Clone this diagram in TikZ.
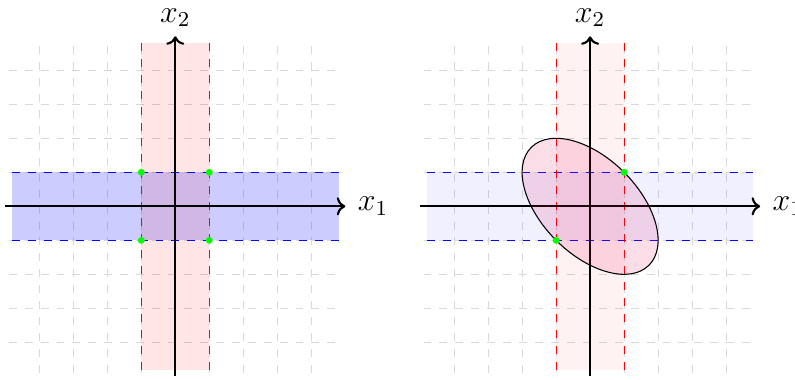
\documentclass[tikz,border=0pt]{standalone}
\usetikzlibrary{arrows.meta}
\definecolor{ellfill}{RGB}{230,30,100}
\begin{document}
\begin{tikzpicture}[x=0.45cm,y=0.45cm,
  gridline/.style={gray!30, dashed, step=0.45cm},
  axisline/.style={thick,-{To[length=3.2pt,width=6.8pt]}},
  axislabel/.style={font=\large},
  dot/.style={circle, fill=green, inner sep=0pt, minimum size=2.6pt},
  bandedge/.style={dashed}]
\clip (-5.156,-5.079) rectangle (18.226,6.068);
\useasboundingbox (-5.156,-5.079) rectangle (18.226,6.068);
% ---------- left plot ----------
\begin{scope}
  \draw[gridline] (-4.9,-4.9) grid (4.9,4.9);
  \fill[blue, fill opacity=0.2] (-4.8,-1) rectangle (4.8,1);
  \fill[red, fill opacity=0.1] (-1,-4.8) rectangle (1,4.8);
  \coordinate (LbA) at (-4.8,1);  \coordinate (LbB) at (4.8,1);
  \coordinate (LbC) at (-4.8,-1); \coordinate (LbD) at (4.8,-1);
  \coordinate (LrA) at (-1,-4.8); \coordinate (LrB) at (-1,4.8);
  \coordinate (LrC) at (1,-4.8);  \coordinate (LrD) at (1,4.8);
  \draw[bandedge, blue] (LbA) -- (LbB) (LbC) -- (LbD);
  \draw[bandedge, red] (LrA) -- (LrB) (LrC) -- (LrD);
  \coordinate (Lx0) at (-5,0); \coordinate (Lx1) at (5,0);
  \coordinate (Ly0) at (0,-5); \coordinate (Ly1) at (0,5);
  \draw[axisline] (Lx0) -- (Lx1);
  \draw[axisline] (Ly0) -- (Ly1);
  \node[right, axislabel, xshift=1.2pt] (Llx) at (Lx1) {$x_1$};
  \node[above, axislabel] (Lly) at (Ly1) {$x_2$};
  \node[dot] (Lp1) at (1,1) {};
  \node[dot] (Lp2) at (-1,1) {};
  \node[dot] (Lp3) at (1,-1) {};
  \node[dot] (Lp4) at (-1,-1) {};
\end{scope}
% ---------- right plot ----------
\begin{scope}[shift={(12.2,0)}]
  \draw[gridline] (-4.9,-4.9) grid (4.9,4.9);
  \fill[blue, fill opacity=0.06] (-4.8,-1) rectangle (4.8,1);
  \fill[red, fill opacity=0.05] (-1,-4.8) rectangle (1,4.8);
  \coordinate (RbA) at (-4.8,1);  \coordinate (RbB) at (4.8,1);
  \coordinate (RbC) at (-4.8,-1); \coordinate (RbD) at (4.8,-1);
  \coordinate (RrA) at (-1,-4.8); \coordinate (RrB) at (-1,4.8);
  \coordinate (RrC) at (1,-4.8);  \coordinate (RrD) at (1,4.8);
  \draw[bandedge, blue] (RbA) -- (RbB) (RbC) -- (RbD);
  \draw[bandedge, red] (RrA) -- (RrB) (RrC) -- (RrD);
  \coordinate (Rx0) at (-5,0); \coordinate (Rx1) at (5,0);
  \coordinate (Ry0) at (0,-5); \coordinate (Ry1) at (0,5);
  \draw[axisline] (Rx0) -- (Rx1);
  \draw[axisline] (Ry0) -- (Ry1);
  \node[right, axislabel, xshift=1.2pt] (Rlx) at (Rx1) {$x_1$};
  \node[above, axislabel] (Rly) at (Ry1) {$x_2$};
  \draw[fill=ellfill, fill opacity=0.15, rotate=-45] (0,0) ellipse ({sqrt(6)} and {sqrt(2)});
  \node[dot] (Rp1) at (1,1) {};
  \node[dot] (Rp2) at (-1,-1) {};
\end{scope}
\end{tikzpicture}
\end{document}
